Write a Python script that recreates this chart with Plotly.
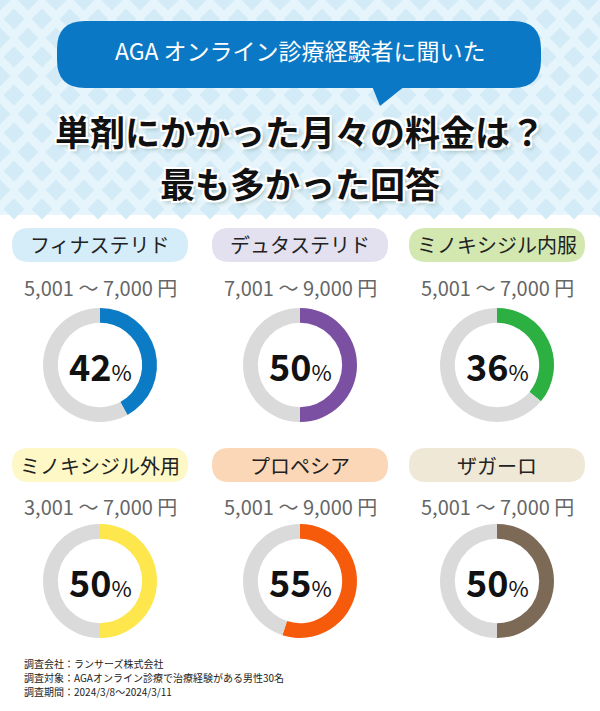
import plotly.graph_objects as go

names = ['フィナステリド', 'デュタステリド', 'ミノキシジル内服', 'ミノキシジル外用', 'プロペシア', 'ザガーロ']
prices = ['5,001 〜 7,000 円', '7,001 〜 9,000 円', '5,001 〜 7,000 円',
          '3,001 〜 7,000 円', '5,001 〜 9,000 円', '5,001 〜 7,000 円']
percents = [42, 50, 36, 50, 55, 50]
ring_colors = ['#0b7bc6', '#7b4fa1', '#2cb042', '#fde74c', '#f65a0b', '#7c6a57']
pill_colors = ['#d5edf9', '#e3e0f0', '#d3e8b1', '#fdf8c6', '#fbd7b7', '#efe8d6']
notes = ['調査会社：ランサーズ株式会社',
         '調査対象：AGAオンライン診療で治療経験がある男性30名',
         '調査期間：2024/3/8〜2024/3/11']

W, H = 600, 711
FONT = 'Noto Sans CJK JP'
def py(y):
    return 1 - y / H

def rounded(x0, y0, x1, y1, r):
    # path in pixel coords (y down), returned in paper coords
    def p(x, y):
        return f'{x / W},{py(y)}'
    return (f'M {p(x0 + r, y0)} L {p(x1 - r, y0)} Q {p(x1, y0)} {p(x1, y0 + r)} '
            f'L {p(x1, y1 - r)} Q {p(x1, y1)} {p(x1 - r, y1)} L {p(x0 + r, y1)} '
            f'Q {p(x0, y1)} {p(x0, y1 - r)} L {p(x0, y0 + r)} Q {p(x0, y0)} {p(x0 + r, y0)} Z')

fig = go.Figure()
shapes = []
ann = []

# header background with diamond pattern
shapes.append(dict(type='rect', xref='paper', yref='paper', x0=0, x1=1, y0=py(215), y1=1,
                   fillcolor='#e6f4fb', line_width=0, layer='below'))
dx, dy = [], []
for r in range(0, 12):
    for c in range(0, 23):
        dx.append(c * 28 + (14 if r % 2 else 0))
        dy.append(r * 19)
fig.add_trace(go.Scatter(x=dx, y=dy, mode='markers', hoverinfo='skip', showlegend=False,
                         marker=dict(symbol='diamond', size=16, color='#d3ebf7')))

# speech bubble
shapes.append(dict(type='path', xref='paper', yref='paper', path=rounded(57, 21, 541, 88, 28),
                   fillcolor='#0a78c4', line_width=0))
shapes.append(dict(type='path', xref='paper', yref='paper',
                   path=f'M {372/W},{py(86)} L {380/W},{py(106)} L {405/W},{py(86)} Z',
                   fillcolor='#0a78c4', line_width=0))
ann.append(dict(x=300 / W, y=py(50), text='AGA オンライン診療経験者に聞いた',
                font=dict(size=23, color='white', family=FONT)))
shadow = '2px 2px 0 white, -2px -2px 0 white, 2px -2px 0 white, -2px 2px 0 white, 3px 3px 4px #9bb'
ann.append(dict(x=300 / W, y=py(130), text='<b>単剤にかかった月々の料金は？</b>',
                font=dict(size=35, color='#111', family=FONT, shadow=shadow)))
ann.append(dict(x=300 / W, y=py(183), text='<b>最も多かった回答</b>',
                font=dict(size=35, color='#111', family=FONT, shadow=shadow)))

cx = [100, 300, 497]
rows = [(245, 288, 365), (465, 506, 581)]
R = 57
for i, name in enumerate(names):
    col = i % 3
    pill_y, price_y, cy = rows[i // 3]
    x = cx[col]
    shapes.append(dict(type='path', xref='paper', yref='paper',
                       path=rounded(x - 88, pill_y - 17, x + 88, pill_y + 17, 17),
                       fillcolor=pill_colors[i], line_width=0))
    ann.append(dict(x=x / W, y=py(pill_y), text=name, font=dict(size=20, color='#222', family=FONT)))
    ann.append(dict(x=x / W, y=py(price_y), text=prices[i], font=dict(size=20, color='#666', family=FONT)))
    fig.add_trace(go.Pie(values=[percents[i], 100 - percents[i]], sort=False, direction='clockwise',
                         rotation=0, hole=0.74, textinfo='none', hoverinfo='skip', showlegend=False,
                         marker=dict(colors=[ring_colors[i], '#dadada']),
                         domain=dict(x=[(x - R) / W, (x + R) / W], y=[py(cy + R), py(cy - R)])))
    ann.append(dict(x=x / W, y=py(cy), text=f'<b>{percents[i]}</b><span style="font-size:22px">%</span>',
                    font=dict(size=36, color='#111', family=FONT)))

for k, t in enumerate(notes):
    ann.append(dict(x=22 / W, y=py(663 + k * 14), text=t, xanchor='left',
                    font=dict(size=10, color='#222', family=FONT)))

for a in ann:
    a.update(xref='paper', yref='paper', showarrow=False)
    a.setdefault('xanchor', 'center')
    a.setdefault('yanchor', 'middle')

fig.update_layout(width=W, height=H, margin=dict(l=0, r=0, t=0, b=0),
                  paper_bgcolor='white', plot_bgcolor='rgba(0,0,0,0)',
                  shapes=shapes, annotations=ann,
                  xaxis=dict(range=[0, W], visible=False, domain=[0, 1], fixedrange=True),
                  yaxis=dict(range=[H, 0], visible=False, domain=[0, 1], fixedrange=True))
fig.write_html('out.html', config={'displayModeBar': False},
               post_script="document.body.style.margin='0';")
